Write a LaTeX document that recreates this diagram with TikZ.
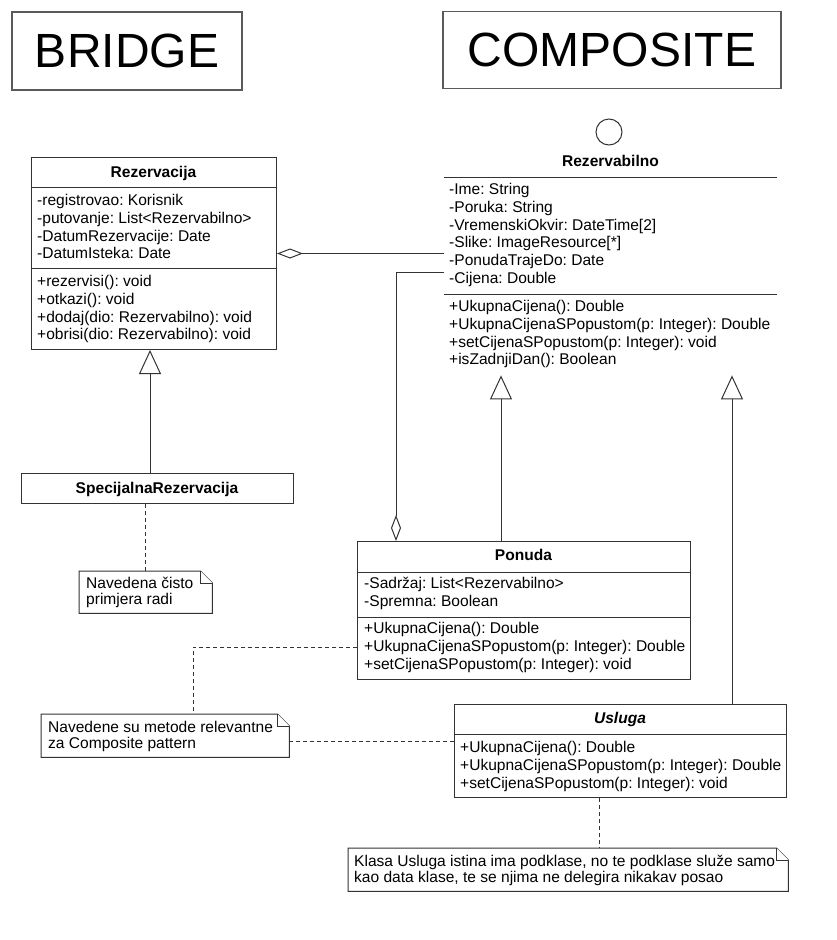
\documentclass[tikz,border=0pt]{standalone}
\usepackage{fontspec}
\setmainfont{Liberation Sans}
\usetikzlibrary{arrows.meta,calc,backgrounds}
\definecolor{linec}{HTML}{333333}
\definecolor{titleline}{HTML}{5A5A5A}
\definecolor{shadowc}{HTML}{ECECEC}
\frenchspacing
\newcommand\notefold[1]{%
  \filldraw[notestyle] (#1.north west) -- ([xshift=-12pt]#1.north east) -- ([yshift=-12pt]#1.north east) -- (#1.south east) -- (#1.south west) -- cycle;
  \draw[notestyle] ([xshift=-12pt]#1.north east) |- ([yshift=-12pt]#1.north east);}
\newcommand\boxshadow[1]{%
  \fill[shadowc] ([shift={(5pt,-5pt)}]#1.north west) rectangle ([shift={(5pt,-5pt)}]#1.south east);}
\begin{document}
\begin{tikzpicture}[x=1pt,y=-1pt,
  txt/.style={anchor=base west, inner sep=0pt, font=\fontsize{15.55}{17.8}\selectfont},
  ttl/.style={anchor=base, inner sep=0pt, font=\fontsize{15.55}{17.8}\selectfont\bfseries},
  classbox/.style={draw=linec, line width=1pt, fill=white, anchor=north west, inner sep=0pt},
  anchorbox/.style={anchor=north west, inner sep=0pt},
  titlebox/.style={draw=titleline, line width=1.2pt, fill=white, inner sep=0pt, font=\fontsize{48}{56}\selectfont},
  notestyle/.style={draw=linec, line width=1pt, fill=white},
  sep/.style={draw=linec, line width=1pt},
  aggr/.style={draw=linec, line width=1pt, {Diamond[open,length=26pt,width=10pt]}-},
  gen/.style={draw=linec, line width=1pt, -{Triangle[open,length=24pt,width=22pt]}},
  dep/.style={draw=linec, line width=1pt, dash pattern=on 4pt off 3pt}]
\useasboundingbox (0,0) rectangle (837,940);
\fill[white] (0,0) rectangle (837,940);

% titles
\node[titlebox, minimum width=230pt, minimum height=78pt] (bridge) at (127,51) {BRIDGE};
\node[titlebox, minimum width=338pt, minimum height=77pt] (composite) at (612,50) {COMPOSITE};

% Rezervacija
\node[classbox, minimum width=245pt, minimum height=192pt] (rez) at (31,157) {};
\draw[sep] ([yshift=-30pt]rez.north west) -- ([yshift=-30pt]rez.north east);
\draw[sep] ([yshift=-111pt]rez.north west) -- ([yshift=-111pt]rez.north east);
\node[ttl] (rezT) at (153.5,177.5) {Rezervacija};
\foreach \t [count=\i] in {{-registrovao: Korisnik},{-putovanje: List<Rezervabilno>},{-DatumRezervacije: Date},{-DatumIsteka: Date}}
  \node[txt] (rezA\i) at (37,{205.5+17.8*(\i-1)}) {\t};
\foreach \t [count=\i] in {{+rezervisi(): void},{+otkazi(): void},{+dodaj(dio: Rezervabilno): void},{+obrisi(dio: Rezervabilno): void}}
  \node[txt] (rezM\i) at (37,{286.5+17.8*(\i-1)}) {\t};

% SpecijalnaRezervacija
\node[classbox, minimum width=272pt, minimum height=30pt] (spec) at (21,473) {};
\node[ttl] (specT) at (157,493.5) {SpecijalnaRezervacija};

% Rezervabilno (interface)
\node[anchorbox, minimum width=333pt, minimum height=258pt] (rezab) at (444,117) {};
\draw[sep] (609,132) circle[radius=13];
\node[ttl] (rezabT) at (610.5,166.5) {Rezervabilno};
\draw[sep] ([yshift=-60pt]rezab.north west) -- ([yshift=-60pt]rezab.north east);
\draw[sep] ([yshift=-177pt]rezab.north west) -- ([yshift=-177pt]rezab.north east);
\foreach \t [count=\i] in {{-Ime: String},{-Poruka: String},{-VremenskiOkvir: DateTime[2]},{-Slike: ImageResource[*]},{-PonudaTrajeDo: Date},{-Cijena: Double}}
  \node[txt] (rezabA\i) at (449,{194.5+17.8*(\i-1)}) {\t};
\foreach \t [count=\i] in {{+UkupnaCijena(): Double},{+UkupnaCijenaSPopustom(p: Integer): Double},{+setCijenaSPopustom(p: Integer): void},{+isZadnjiDan(): Boolean}}
  \node[txt] (rezabM\i) at (449,{311.5+17.8*(\i-1)}) {\t};

% Ponuda
\node[classbox, minimum width=333pt, minimum height=138pt] (ponuda) at (357,541) {};
\draw[sep] ([yshift=-31pt]ponuda.north west) -- ([yshift=-31pt]ponuda.north east);
\draw[sep] ([yshift=-76pt]ponuda.north west) -- ([yshift=-76pt]ponuda.north east);
\node[ttl] (ponT) at (523.5,560.5) {Ponuda};
\foreach \t [count=\i] in {{-Sadržaj: List<Rezervabilno>},{-Spremna: Boolean}}
  \node[txt] (ponA\i) at (364,{588.5+17.8*(\i-1)}) {\t};
\foreach \t [count=\i] in {{+UkupnaCijena(): Double},{+UkupnaCijenaSPopustom(p: Integer): Double},{+setCijenaSPopustom(p: Integer): void}}
  \node[txt] (ponM\i) at (364,{633.5+17.8*(\i-1)}) {\t};

% Usluga
\node[classbox, minimum width=332pt, minimum height=93pt] (usluga) at (454,704) {};
\draw[sep] ([yshift=-30pt]usluga.north west) -- ([yshift=-30pt]usluga.north east);
\node[ttl, font=\fontsize{15.55}{17.8}\selectfont\bfseries\itshape] (uslT) at (620,723.5) {Usluga};
\foreach \t [count=\i] in {{+UkupnaCijena(): Double},{+UkupnaCijenaSPopustom(p: Integer): Double},{+setCijenaSPopustom(p: Integer): void}}
  \node[txt] (uslM\i) at (460,{752.5+17.8*(\i-1)}) {\t};

% notes
\node[anchorbox, minimum width=133pt, minimum height=42pt] (n1) at (79,571) {};
\notefold{n1}
\node[txt] (n1a) at (86,588.5) {Navedena čisto};
\node[txt] (n1b) at (86,604.2) {primjera radi};

\node[anchorbox, minimum width=248pt, minimum height=43pt] (n2) at (41,714) {};
\notefold{n2}
\node[txt] (n2a) at (48,732.5) {Navedene su metode relevantne};
\node[txt] (n2b) at (48,748.2) {za Composite pattern};

\node[anchorbox, minimum width=440pt, minimum height=43pt] (n3) at (348,848) {};
\notefold{n3}
\node[txt] (n3a) at (354,866.5) {Klasa Usluga istina ima podklase, no te podklase služe samo};
\node[txt] (n3b) at (354,882.2) {kao data klase, te se njima ne delegira nikakav posao};

% shadows
\begin{scope}[on background layer]
  \boxshadow{spec}
  \boxshadow{ponuda}
  \boxshadow{usluga}
\end{scope}

% connectors
\draw[aggr] (rez.east) -- (rez.east -| rezab.west);
\coordinate (pagg) at ($(ponuda.north west)+(39,0)$);
\coordinate (rabL) at ($(rezab.north west)+(0,155)$);
\draw[aggr] (pagg) |- (rabL);
\coordinate (pgen) at ($(ponuda.north west)+(144,0)$);
\draw[gen] (pgen) -- (pgen |- rezab.south);
\coordinate (ugen) at ($(usluga.north west)+(278,0)$);
\draw[gen] (ugen) -- (ugen |- rezab.south);
\coordinate (sgen) at ($(spec.north west)+(129,0)$);
\draw[gen] (sgen) -- (sgen |- rez.south);

\draw[dep] (spec.south -| n1.north) -- (n1.north);
\coordinate (pdep) at ($(ponuda.north west)+(0,106)$);
\coordinate (n2top) at ($(n2.north west)+(152,0)$);
\draw[dep] (pdep) -| (n2top);
\coordinate (n2r) at ($(n2.north east)+(0,27.5)$);
\draw[dep] (n2r) -- (n2r -| usluga.west);
\coordinate (ud) at ($(usluga.south west)+(145,0)$);
\draw[dep] (ud) -- (ud |- n3.north);
\end{tikzpicture}
\end{document}
